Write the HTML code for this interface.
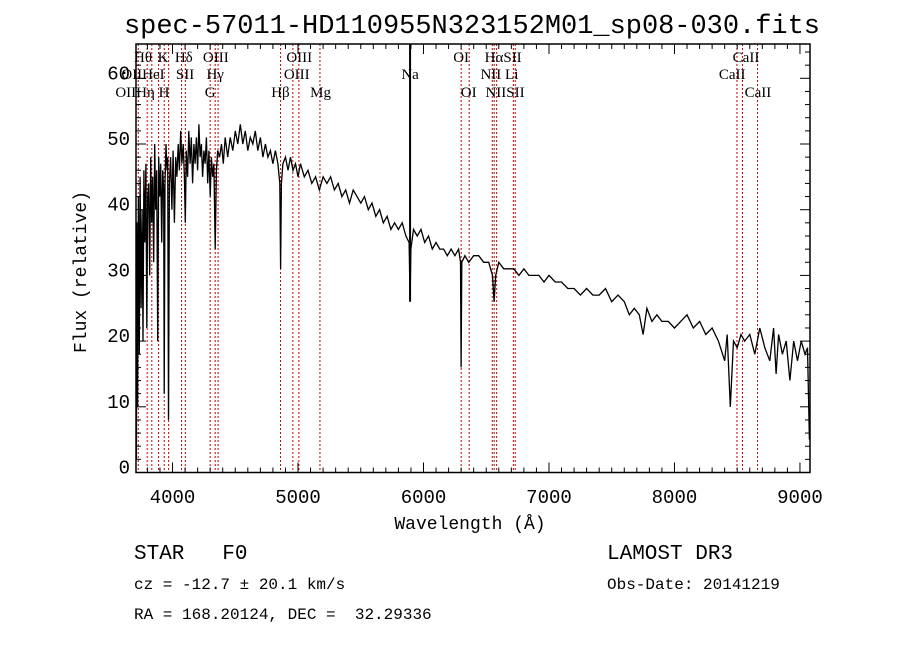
<!DOCTYPE html>
<html><head><meta charset="utf-8"><style>
body{margin:0;background:#fff}
svg text{font-family:"Liberation Serif",serif;fill:#000;white-space:pre}
.m{font-family:"Liberation Mono",monospace}
</style></head><body>
<svg id="c" width="900" height="649">
<rect width="900" height="649" fill="#fff"/>
<text class="m" x="472" y="33" font-size="27" text-anchor="middle" textLength="696">spec-57011-HD110955N323152M01_sp08-030.fits</text>
<g id="lines"></g><g id="axes"></g>
<text class="m" x="470" y="529" font-size="18" text-anchor="middle">Wavelength (Å)</text>
<text class="m" x="86" y="272" font-size="18" text-anchor="middle" transform="rotate(-90 86 272)">Flux (relative)</text>
<text class="m" x="134" y="559" font-size="21" xml:space="preserve">STAR   F0</text>
<text class="m" x="607" y="559" font-size="21">LAMOST DR3</text>
<text class="m" x="134" y="589" font-size="16">cz = -12.7 ± 20.1 km/s</text>
<text class="m" x="607" y="589" font-size="16">Obs-Date: 20141219</text>
<text class="m" x="134" y="619" font-size="16" xml:space="preserve">RA = 168.20124, DEC =  32.29336</text>
</svg>
<script>
const xTicks=[4000,5000,6000,7000,8000,9000];
const yTicks=[0,10,20,30,40,50,60];
const wave=[3712,3716,3722,3728,3735,3742,3750,3758,3765,3772,3780,3788,3795,3802,3810,3818,3826,3834,3842,3850,3858,3866,3874,3882,3890,3898,3906,3914,3922,3930,3934,3940,3948,3956,3962,3968,3975,3985,3995,4005,4015,4025,4035,4045,4055,4065,4075,4085,4095,4102,4110,4120,4130,4140,4150,4160,4170,4180,4190,4200,4210,4220,4230,4240,4250,4260,4270,4280,4290,4300,4310,4320,4330,4340,4350,4360,4375,4390,4405,4420,4440,4460,4480,4500,4520,4540,4560,4580,4600,4620,4640,4660,4680,4700,4720,4740,4760,4780,4800,4820,4840,4855,4861,4868,4880,4900,4920,4940,4960,4980,5000,5020,5050,5080,5110,5140,5170,5200,5230,5260,5290,5320,5350,5380,5410,5440,5470,5500,5530,5560,5590,5620,5650,5680,5710,5740,5770,5800,5830,5860,5885,5893,5900,5920,5950,5980,6010,6040,6070,6100,6130,6160,6190,6220,6250,6280,6295,6300,6305,6330,6360,6400,6440,6480,6520,6550,6563,6575,6600,6640,6680,6720,6760,6800,6840,6880,6920,6960,7000,7050,7100,7150,7200,7250,7300,7350,7400,7450,7500,7550,7600,7640,7680,7720,7750,7780,7820,7860,7900,7950,8000,8050,8100,8150,8200,8250,8300,8350,8400,8420,8445,8470,8500,8530,8560,8600,8640,8680,8720,8760,8790,8810,8830,8860,8890,8920,8950,8980,9010,9040,9060,9075];
const flux=[2,38,10,42,18,45,25,40,20,46,35,47,22,42,44,30,48,38,45,32,50,40,46,20,48,42,47,35,46,43,12,44,50,46,48,8,44,48,40,49,38,48,45,50,46,52,47,50,45,38,49,45,52,47,51,44,50,47,51,46,53,48,50,45,49,47,51,44,49,42,48,45,47,34,46,49,48,50,47,51,48,51,49,52,50,53,50,52,49,51,50,52,49,51,48,50,48,49,47,49,47,44,31,44,47,48,46,48,46,47,45,47,45,46,44,45,43,45,44,45,43,44,42,43,41,43,42,41,42,40,41,39,40,38,39,37,38,37,38,36,35,26,34,37,36,37,35,36,34,35,34,34,33,34,33,34,32,16,32,33,32,33,33,32,32,30,26,30,32,31,31,31,30,31,30,30,30,29,30,29,29,28,28,27,28,27,27,28,26,27,26,24,25,24,21,25,23,24,23,23,22,23,24,22,23,21,22,20,17,21,10,20,19,21,20,21,18,22,19,17,22,15,21,18,20,14,20,17,20,18,19,5];
const lineWaves=[3727,3798,3835,3889,3934,3969,4072,4102,4300,4340,4363,4861,4959,5007,5175,6300,6364,6548,6563,6583,6716,6731,8498,8542,8662];
const labelText=["Hθ","K","Hδ","OIII","OIII","OI","HαSII","CaII","OIIHeI","SII","Hγ","OIII","Na","NII Li","CaII","OIIHη H","G","Hβ","Mg","OI","NIISII","CaII"];
const labelWave=[3765,3925,4090,4345,5010,6300,6635,8570,3765,4100,4340,4990,5893,6605,8460,3760,4300,4860,5180,6360,6650,8665];
const labelRow=[0,0,0,0,0,0,0,0,1,1,1,1,1,1,1,2,2,2,2,2,2,2];
const X0=136,X1=810,Y0=472.5,Y1=44,WMIN=3709,WMAX=9080;
const sx=w=>X0+(w-WMIN)*(X1-X0)/(WMAX-WMIN);
const sy=v=>Y0-v*6.57;
const NS="http://www.w3.org/2000/svg";
const svg=document.getElementById('c');
function mk(t,a,p){const e=document.createElementNS(NS,t);for(const k in a)e.setAttribute(k,a[k]);(p||svg).appendChild(e);return e;}
const lg=document.getElementById('lines');
lineWaves.forEach(w=>{
 const l=mk('line',{x1:sx(w),x2:sx(w),y1:Y1,y2:Y0,stroke:'#c00000','stroke-width':1,'stroke-dasharray':'2,2'},lg);
 
 
});
const na=mk('line',{x1:sx(5893),x2:sx(5893),y1:Y1,y2:sy(26),stroke:'#000','stroke-width':2},lg);


const rowY=[62,79,97];
labelText.forEach((t,i)=>{
 const e=mk('text',{x:sx(labelWave[i]),y:rowY[labelRow[i]],'font-size':15,'text-anchor':'middle'},lg);
 e.textContent=t;
 
 
});
let d='';wave.forEach((w,i)=>{d+=(i?'L':'M')+sx(w).toFixed(1)+','+sy(flux[i]).toFixed(1);});
const p=mk('path',{d:d,fill:'none',stroke:'#000','stroke-width':1.3});


const ag=document.getElementById('axes');
const fr=mk('rect',{x:X0,y:Y1,width:X1-X0,height:Y0-Y1,fill:'none',stroke:'#000','stroke-width':1.5},ag);


for(let w=3800;w<=9000;w+=100){const big=w%1000===0,L=big?10:5;
 mk('line',{x1:sx(w),x2:sx(w),y1:Y0,y2:Y0-L,stroke:'#000'},ag);
 mk('line',{x1:sx(w),x2:sx(w),y1:Y1,y2:Y1+L,stroke:'#000'},ag);}
for(let v=0;v<=64;v+=2){const big=v%10===0,L=big?10:5;
 mk('line',{x1:X0,x2:X0+L,y1:sy(v),y2:sy(v),stroke:'#000'},ag);
 mk('line',{x1:X1,x2:X1-L,y1:sy(v),y2:sy(v),stroke:'#000'},ag);}
xTicks.forEach(w=>{const t=mk('text',{x:sx(w),y:503,'font-size':19,'text-anchor':'middle',class:'m'},ag);t.textContent=w;
 
 });
yTicks.forEach(v=>{const t=mk('text',{x:130,y:sy(v)+1,'font-size':19,'text-anchor':'end',class:'m'},ag);t.textContent=v;
 
 });
</script>
</body></html>
